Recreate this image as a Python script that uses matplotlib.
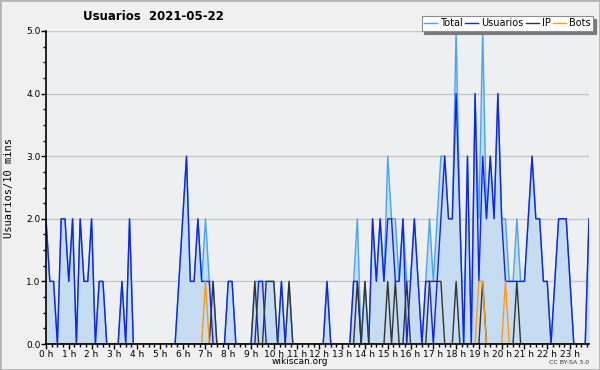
import numpy as np
import matplotlib.pyplot as plt
from matplotlib.patches import Rectangle

# datos cada 10 minutos (6 por hora)
usuarios = [2, 1, 1, 0, 2, 2,  1, 2, 0, 2, 1, 1,  2, 0, 1, 1, 0, 0,  0, 0, 1, 0, 2, 0,
            0, 0, 0, 0, 0, 0,  0, 0, 0, 0, 0, 1,  2, 3, 1, 1, 2, 1,  1, 1, 0, 0, 0, 0,
            1, 1, 0, 0, 0, 0,  0, 0, 1, 1, 0, 0,  0, 0, 1, 0, 0, 0,  0, 0, 0, 0, 0, 0,
            0, 0, 1, 0, 0, 0,  0, 0, 0, 1, 1, 0,  0, 0, 2, 1, 2, 1,  2, 2, 1, 1, 2, 0,
            1, 2, 1, 0, 1, 1,  0, 1, 2, 3, 2, 2,  4, 2, 0, 3, 0, 4,  1, 3, 2, 3, 2, 4,
            2, 1, 1, 1, 1, 1,  1, 2, 3, 2, 2, 1,  1, 0, 1, 2, 2, 2,  1, 0, 0, 0, 0, 2]
ip = [0] * 42 + [0, 0, 1, 0, 0, 0] + [0] * 6 + \
     [0, 1, 0, 0, 1, 1,  1, 0, 0, 0, 1, 0] + [0] * 12 + \
     [0, 0, 0, 0, 1, 0,  1, 0, 0, 0, 0, 0,  1, 0, 1, 0, 0, 1,  0, 0, 0, 0, 0, 1,
      1, 1, 1, 0, 0, 0,  1, 0, 0, 0, 0, 0,  0, 1, 0, 0, 0, 0,  0, 0, 0, 0, 1, 0] + [0] * 18
bots = [0] * 42 + [1, 0, 0, 0, 0, 0] + [0] * 66 + \
       [1, 1, 0, 0, 0, 0,  0, 1, 0, 0, 0, 0] + [0] * 18
total = [2, 1, 1, 0, 2, 2,  1, 2, 0, 2, 1, 1,  2, 0, 1, 1, 0, 0,  0, 0, 1, 0, 2, 0,
         0, 0, 0, 0, 0, 0,  0, 0, 0, 0, 0, 1,  2, 3, 1, 1, 2, 1,  2, 1, 1, 0, 0, 0,
         1, 1, 0, 0, 0, 0,  0, 1, 1, 1, 1, 1,  1, 0, 1, 0, 1, 0,  0, 0, 0, 0, 0, 0,
         0, 0, 1, 0, 0, 0,  0, 0, 0, 1, 2, 0,  1, 0, 2, 1, 2, 1,  3, 2, 2, 1, 2, 1,
         1, 2, 1, 0, 1, 2,  1, 2, 3, 3, 2, 2,  5, 2, 0, 3, 0, 4,  2, 5, 2, 3, 2, 4,
         2, 2, 1, 1, 2, 1,  1, 2, 3, 2, 2, 1,  1, 0, 1, 2, 2, 2,  1, 0, 0, 0, 0, 2]
horas = [f'{h} h' for h in range(24)]

x = np.arange(len(total))

fig = plt.figure(figsize=(6, 3.7), dpi=100, facecolor='#f0f0f0')
ax = fig.add_axes([46/600, 1-344/370, 543/600, 313/370])
ax.set_facecolor('#eeeff1')

# borde de la imagen
fig.patches.append(Rectangle((0, 0), 1, 1, transform=fig.transFigure, fill=False,
                             edgecolor='#b4b4b4', linewidth=2))

ax.fill_between(x, total, color='#c6dcf0', lw=0, zorder=1)
ax.plot(x, total, color='#44a4ff', lw=1.0, label='Total', zorder=3)
ax.plot(x, usuarios, color='#1020ff', lw=1.0, label='Usuarios', zorder=4)
ax.plot(x, ip, color='#333333', lw=1.0, label='IP', zorder=5)
ax.plot(x, bots, color='#ff9a10', lw=1.0, label='Bots', zorder=6)

ax.set_xlim(0, 143)
ax.set_ylim(0, 5)
ax.set_yticks(np.arange(0, 5.1, 1))
ax.set_yticklabels([f'{v:.1f}' for v in range(6)])
ax.set_yticks(np.arange(0, 5.01, 0.25), minor=True)
ax.set_xticks(np.arange(0, 144, 6))
ax.set_xticklabels(horas)
ax.set_xticks(np.arange(0, 144, 1.5), minor=True)
ax.yaxis.grid(True, color='#c8c8c8', lw=1.0, zorder=0)
ax.set_axisbelow(True)

for s in ['top', 'right']:
    ax.spines[s].set_visible(False)
for s in ['left', 'bottom']:
    ax.spines[s].set_linewidth(1.2)
    ax.spines[s].set_zorder(10)
ax.tick_params(axis='both', which='major', labelsize=6.5, length=3.5, width=1, pad=0.5, colors='black')
ax.tick_params(axis='both', which='minor', length=2.5, width=1)

ax.set_ylabel('Usuarios/10 mins', fontsize=7.5, family='DejaVu Sans Mono', labelpad=9)
fig.text(0.5, 1-362/370, 'wikiscan.org', fontsize=6.5, ha='center', va='center')
fig.text(0.255, 1-16/370, 'Usuarios  2021-05-22', fontsize=8.5, fontweight='bold',
         ha='center', va='center')
fig.text(0.982, 1-362/370, 'CC BY-SA 3.0', fontsize=4.5, ha='right', va='center', color='#333333')

leg = ax.legend(ncol=4, loc='upper right', bbox_to_anchor=(593/600, 1-16/370),
                bbox_transform=fig.transFigure, fontsize=7, frameon=True, fancybox=False,
                shadow={'color': '#7a7a7a', 'alpha': 1}, handlelength=1.3, handletextpad=0.3,
                columnspacing=0.3, borderpad=0.25, borderaxespad=0)
leg.get_frame().set_edgecolor('#8c8c8c')
leg.get_frame().set_linewidth(0.8)

fig.savefig('out.png', dpi=100, facecolor=fig.get_facecolor())
